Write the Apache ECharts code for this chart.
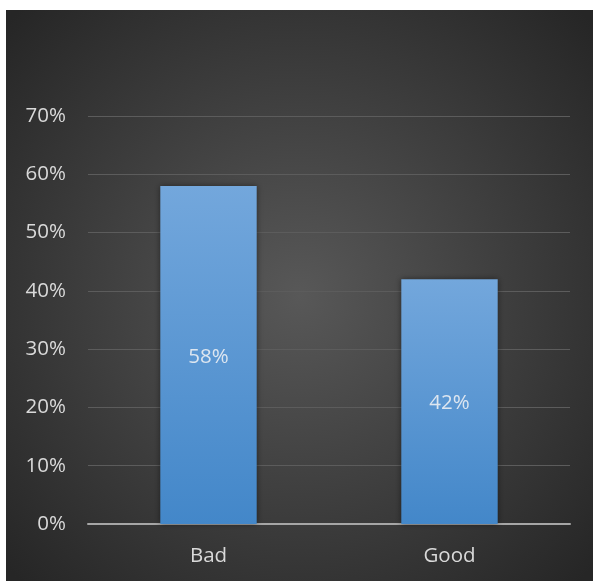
<!DOCTYPE html>
<html>
<head>
<meta charset="utf-8">
<script src="https://cdn.jsdelivr.net/npm/echarts@6/dist/echarts.min.js"></script>
<style>
html,body{margin:0;padding:0;background:#ffffff;}
#chart{width:593px;height:583px;}
</style>
</head>
<body>
<div id="chart"></div>
<script>
const categories = ['Bad', 'Good'];
const values = [0.58, 0.42];
const yTicks = [0, 0.1, 0.2, 0.3, 0.4, 0.5, 0.6, 0.7];

const chart = echarts.init(document.getElementById('chart'), null, {renderer: 'canvas'});
const font = '"Open Sans", Lato, sans-serif';
chart.setOption({
  backgroundColor: '#ffffff',
  animation: false,
  graphic: [{
    type: 'rect',
    z: -10,
    silent: true,
    shape: {x: 6, y: 10, width: 587, height: 571},
    style: {
      fill: new echarts.graphic.RadialGradient(0.5, 0.5, 0.7, [
        {offset: 0, color: '#585858'},
        {offset: 1, color: '#262626'}
      ])
    }
  }],
  grid: {left: 88, right: 23, top: 116, bottom: 59, containLabel: false},
  xAxis: {
    type: 'category',
    data: categories,
    axisLine: {show: true, lineStyle: {color: '#a6a6a6', width: 2}},
    axisTick: {show: false},
    axisLabel: {color: '#d9d9d9', fontSize: 20.5, fontFamily: font, margin: 22}
  },
  yAxis: {
    type: 'value',
    min: 0,
    max: 0.7,
    interval: 0.1,
    axisLine: {show: false},
    axisTick: {show: false},
    splitLine: {lineStyle: {color: '#5c5c5c', width: 1}},
    axisLabel: {
      color: '#d9d9d9', fontSize: 20.5, fontFamily: font, margin: 22,
      padding: [3, 0, 0, 0],
      formatter: v => Math.round(v * 100) + '%'
    }
  },
  series: [{
    type: 'bar',
    data: values,
    barWidth: '40%',
    itemStyle: {
      color: new echarts.graphic.LinearGradient(0, 0, 0, 1, [
        {offset: 0, color: '#73a7dc'},
        {offset: 1, color: '#4387c9'}
      ]),
      shadowColor: 'rgba(0,0,0,0.45)',
      shadowBlur: 6,
      shadowOffsetX: 0,
      shadowOffsetY: 0
    },
    label: {
      show: true,
      position: 'inside',
      offset: [0, 2],
      color: '#dde6f0',
      fontSize: 20.5,
      fontFamily: font,
      formatter: p => Math.round(p.value * 100) + '%'
    }
  }]
});
</script>
</body>
</html>
